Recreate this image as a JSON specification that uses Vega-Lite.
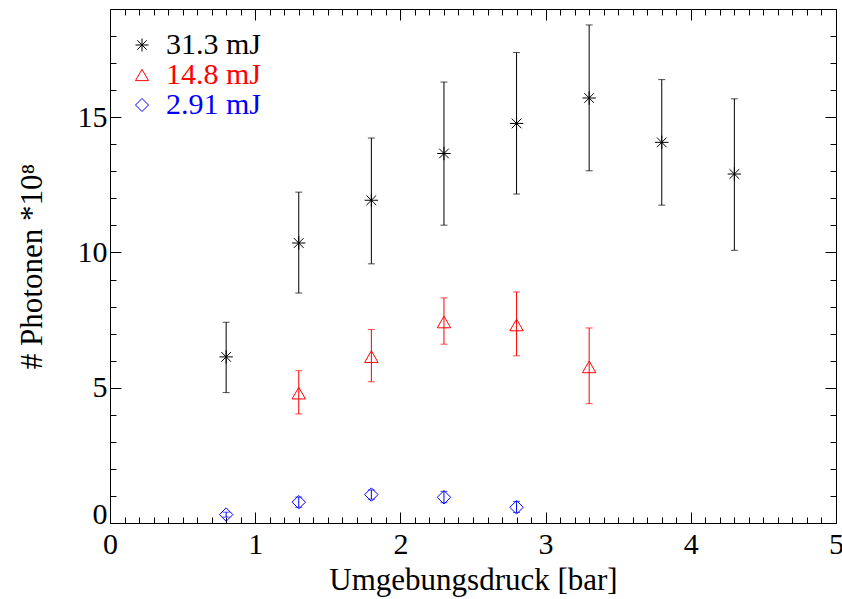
{
  "$schema": "https://vega.github.io/schema/vega-lite/v6.json",
  "width": 726,
  "height": 514,
  "autosize": {"type": "none"},
  "padding": {"left": 110, "top": 9, "right": 6, "bottom": 76},
  "background": "white",
  "config": {
    "view": {"stroke": null},
    "font": "Liberation Serif",
    "axis": {
      "labelFont": "Liberation Serif",
      "titleFont": "Liberation Serif",
      "labelFontSize": 30,
      "titleFontSize": 31,
      "labelColor": "black",
      "titleColor": "black",
      "titleFontWeight": "normal",
      "domainColor": "black",
      "domainWidth": 1,
      "tickColor": "black",
      "tickWidth": 1,
      "grid": false
    }
  },
  "data": {
    "values": [
      {"series": "31.3 mJ", "x": 0.8, "y": 6.14, "lo": 4.82, "hi": 7.42},
      {"series": "31.3 mJ", "x": 1.3, "y": 10.35, "lo": 8.5, "hi": 12.23},
      {"series": "31.3 mJ", "x": 1.8, "y": 11.93, "lo": 9.58, "hi": 14.23},
      {"series": "31.3 mJ", "x": 2.3, "y": 13.66, "lo": 11.01, "hi": 16.3},
      {"series": "31.3 mJ", "x": 2.8, "y": 14.77, "lo": 12.16, "hi": 17.39},
      {"series": "31.3 mJ", "x": 3.3, "y": 15.71, "lo": 13.02, "hi": 18.41},
      {"series": "31.3 mJ", "x": 3.8, "y": 14.07, "lo": 11.75, "hi": 16.39},
      {"series": "31.3 mJ", "x": 4.3, "y": 12.9, "lo": 10.08, "hi": 15.68},
      {"series": "14.8 mJ", "x": 1.3, "y": 4.8, "lo": 4.03, "hi": 5.63},
      {"series": "14.8 mJ", "x": 1.8, "y": 6.15, "lo": 5.22, "hi": 7.15},
      {"series": "14.8 mJ", "x": 2.3, "y": 7.43, "lo": 6.61, "hi": 8.32},
      {"series": "14.8 mJ", "x": 2.8, "y": 7.32, "lo": 6.18, "hi": 8.54},
      {"series": "14.8 mJ", "x": 3.3, "y": 5.77, "lo": 4.41, "hi": 7.21},
      {"series": "2.91 mJ", "x": 0.8, "y": 0.31, "lo": 0.22, "hi": 0.4},
      {"series": "2.91 mJ", "x": 1.3, "y": 0.77, "lo": 0.58, "hi": 0.96},
      {"series": "2.91 mJ", "x": 1.8, "y": 1.05, "lo": 0.88, "hi": 1.22},
      {"series": "2.91 mJ", "x": 2.3, "y": 0.95, "lo": 0.75, "hi": 1.17},
      {"series": "2.91 mJ", "x": 2.8, "y": 0.58, "lo": 0.39, "hi": 0.8}
    ]
  },
  "layer": [
    {
      "mark": {"type": "rule", "strokeWidth": 1},
      "encoding": {
        "x": {
          "field": "x", "type": "quantitative",
          "scale": {"domain": [0, 5], "nice": false, "zero": false},
          "axis": {
            "orient": "bottom",
            "title": "Umgebungsdruck [bar]",
            "values": [0, 1, 2, 3, 4, 5],
            "format": "d",
            "tickSize": -11,
            "labelPadding": 17,
            "labelFlush": false,
            "labelOverlap": false,
            "titlePadding": 6
          }
        },
        "y": {
          "field": "lo", "type": "quantitative",
          "scale": {"domain": [0, 19], "nice": false, "zero": false},
          "axis": {
            "orient": "left",
            "title": "# Photonen *10⁸",
            "values": [0, 5, 10, 15],
            "tickSize": -11,
            "labelPadding": 14,
            "labelFlush": true,
            "labelFlushOffset": 6,
            "labelOverlap": false,
            "titlePadding": 29
          }
        },
        "y2": {"field": "hi"},
        "color": {
          "field": "series", "type": "nominal",
          "scale": {"domain": ["31.3 mJ", "14.8 mJ", "2.91 mJ"], "range": ["#000000", "#ff0000", "#0000ff"]},
          "legend": null
        }
      }
    },
    {
      "mark": {"type": "tick", "orient": "horizontal", "size": 7, "thickness": 1},
      "encoding": {
        "x": {
          "field": "x", "type": "quantitative",
          "axis": {
            "orient": "bottom",
            "title": null,
            "domain": false,
            "labels": false,
            "values": [0.1,0.2,0.3,0.4,0.5,0.6,0.7,0.8,0.9,1.1,1.2,1.3,1.4,1.5,1.6,1.7,1.8,1.9,2.1,2.2,2.3,2.4,2.5,2.6,2.7,2.8,2.9,3.1,3.2,3.3,3.4,3.5,3.6,3.7,3.8,3.9,4.1,4.2,4.3,4.4,4.5,4.6,4.7,4.8,4.9],
            "tickSize": -6
          }
        },
        "y": {
          "field": "hi", "type": "quantitative",
          "axis": {
            "orient": "left",
            "title": null,
            "domain": false,
            "labels": false,
            "values": [1,2,3,4,6,7,8,9,11,12,13,14,16,17,18],
            "tickSize": -6
          }
        },
        "color": {"field": "series", "type": "nominal", "legend": null}
      }
    },
    {
      "mark": {"type": "tick", "orient": "horizontal", "size": 7, "thickness": 1},
      "encoding": {
        "x": {
          "field": "x", "type": "quantitative",
          "axis": {
            "orient": "top",
            "title": null,
            "labels": false,
            "values": [0, 1, 2, 3, 4, 5],
            "tickSize": -11
          }
        },
        "y": {
          "field": "lo", "type": "quantitative",
          "axis": {
            "orient": "right",
            "title": null,
            "labels": false,
            "values": [0, 5, 10, 15],
            "tickSize": -11
          }
        },
        "color": {"field": "series", "type": "nominal", "legend": null}
      }
    },
    {
      "mark": {"type": "point", "filled": false, "strokeWidth": 1, "opacity": 1, "size": 180},
      "encoding": {
        "x": {
          "field": "x", "type": "quantitative",
          "axis": {
            "orient": "top",
            "title": null,
            "domain": false,
            "labels": false,
            "values": [0.1,0.2,0.3,0.4,0.5,0.6,0.7,0.8,0.9,1.1,1.2,1.3,1.4,1.5,1.6,1.7,1.8,1.9,2.1,2.2,2.3,2.4,2.5,2.6,2.7,2.8,2.9,3.1,3.2,3.3,3.4,3.5,3.6,3.7,3.8,3.9,4.1,4.2,4.3,4.4,4.5,4.6,4.7,4.8,4.9],
            "tickSize": -6
          }
        },
        "y": {
          "field": "y", "type": "quantitative",
          "axis": {
            "orient": "right",
            "title": null,
            "domain": false,
            "labels": false,
            "values": [1,2,3,4,6,7,8,9,11,12,13,14,16,17,18],
            "tickSize": -6
          }
        },
        "color": {
          "field": "series", "type": "nominal",
          "legend": {
            "title": null,
            "orient": "none",
            "legendX": 17,
            "legendY": 21,
            "padding": 0,
            "symbolSize": 169,
            "symbolStrokeWidth": 1,
            "labelFont": "Liberation Serif",
            "labelFontSize": 30,
            "labelOffset": 9,
            "rowPadding": 0,
            "labelColor": {"expr": "scale('color', datum.value)"}
          }
        },
        "shape": {
          "field": "series", "type": "nominal",
          "scale": {"domain": ["31.3 mJ", "14.8 mJ", "2.91 mJ"], "range": ["M0,-1L0,1M-1,0L1,0M-0.72,-0.72L0.72,0.72M-0.72,0.72L0.72,-0.72", "triangle-up", "diamond"]}
        }
      }
    }
  ],
  "resolve": {
    "axis": {"x": "independent", "y": "independent"},
    "legend": {"color": "independent", "shape": "independent"}
  }
}
